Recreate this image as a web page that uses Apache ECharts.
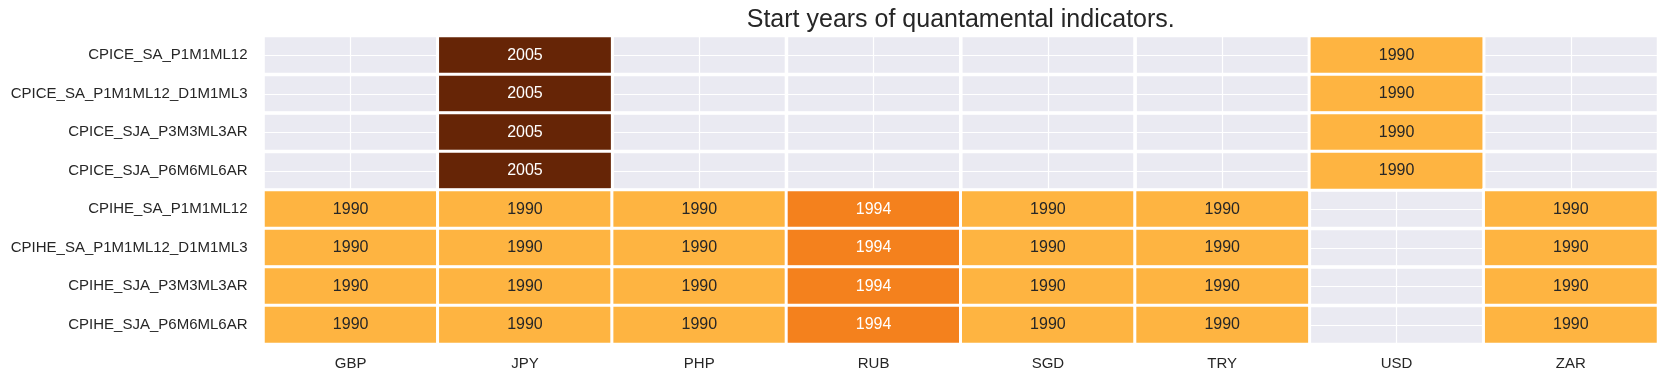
<!DOCTYPE html>
<html>
<head>
<meta charset="utf-8">
<script src="https://cdn.jsdelivr.net/npm/echarts@6/dist/echarts.min.js"></script>
<style>html,body{margin:0;padding:0;background:#fff;}#c{width:1668px;height:381px;}</style>
</head>
<body>
<div id="c"></div>
<script>
// categories
const currencies = ['GBP', 'JPY', 'PHP', 'RUB', 'SGD', 'TRY', 'USD', 'ZAR'];
const indicators = [
  'CPICE_SA_P1M1ML12',
  'CPICE_SA_P1M1ML12_D1M1ML3',
  'CPICE_SJA_P3M3ML3AR',
  'CPICE_SJA_P6M6ML6AR',
  'CPIHE_SA_P1M1ML12',
  'CPIHE_SA_P1M1ML12_D1M1ML3',
  'CPIHE_SJA_P3M3ML3AR',
  'CPIHE_SJA_P6M6ML6AR'
];
// start years per currency (in indicator order); null = no data
const GBP = [null, null, null, null, 1990, 1990, 1990, 1990];
const JPY = [2005, 2005, 2005, 2005, 1990, 1990, 1990, 1990];
const PHP = [null, null, null, null, 1990, 1990, 1990, 1990];
const RUB = [null, null, null, null, 1994, 1994, 1994, 1994];
const SGD = [null, null, null, null, 1990, 1990, 1990, 1990];
const TRY = [null, null, null, null, 1990, 1990, 1990, 1990];
const USD = [1990, 1990, 1990, 1990, null, null, null, null];
const ZAR = [null, null, null, null, 1990, 1990, 1990, 1990];
const startYears = [GBP, JPY, PHP, RUB, SGD, TRY, USD, ZAR];

const yearColors = { 1990: '#feb441', 1994: '#f4811d', 2005: '#662506' };
const yearText = { 1990: '#262626', 1994: '#ffffff', 2005: '#ffffff' };

const filled = [], empty = [];
startYears.forEach((col, ci) => {
  col.forEach((v, ri) => {
    if (v === null) {
      empty.push({ value: [ci, ri, 0] });
    } else {
      filled.push({
        value: [ci, ri, v],
        itemStyle: { color: yearColors[v] },
        label: { color: yearText[v] }
      });
    }
  });
});

const GRID_LEFT = 263.5, GRID_RIGHT = 10;
const chart = echarts.init(document.getElementById('c'), null, { renderer: 'canvas' });
const FONT = '"Liberation Sans", Arial, Helvetica, sans-serif';
chart.setOption({
  animation: false,
  backgroundColor: '#ffffff',
  textStyle: { fontFamily: FONT },
  title: {
    text: 'Start years of quantamental indicators.',
    left: GRID_LEFT + (1668 - GRID_LEFT - GRID_RIGHT) / 2,
    textAlign: 'center',
    top: 8,
    padding: 0,
    textStyle: { fontSize: 25, fontWeight: 'normal', color: '#262626', fontFamily: FONT }
  },
  grid: {
    left: GRID_LEFT, top: 36, right: GRID_RIGHT, bottom: 37,
    show: true, backgroundColor: '#eaeaf2', borderWidth: 0
  },
  xAxis: [
    {
      type: 'category', data: currencies, position: 'bottom',
      axisLine: { show: false }, axisTick: { show: false }, splitLine: { show: false },
      axisLabel: { fontSize: 15, color: '#262626', margin: 12, fontFamily: FONT }
    },
    {
      type: 'value', min: 0, max: 8, interval: 0.5, position: 'top',
      axisLine: { show: false }, axisTick: { show: false }, axisLabel: { show: false },
      splitLine: { show: true, lineStyle: { color: '#ffffff', width: 1.2 } }
    }
  ],
  yAxis: [
    {
      type: 'category', data: indicators, inverse: true,
      axisLine: { show: false }, axisTick: { show: false }, splitLine: { show: false },
      axisLabel: { fontSize: 15, color: '#262626', margin: 16, fontFamily: FONT }
    },
    {
      type: 'value', min: 0, max: 8, interval: 0.5, position: 'right',
      axisLine: { show: false }, axisTick: { show: false }, axisLabel: { show: false },
      splitLine: { show: true, lineStyle: { color: '#ffffff', width: 1.2 } }
    }
  ],
  series: [
    {
      type: 'heatmap', xAxisIndex: 0, yAxisIndex: 0, data: empty,
      itemStyle: { color: 'rgba(0,0,0,0)', borderColor: '#ffffff', borderWidth: 3 },
      label: { show: false }, emphasis: { disabled: true }, silent: true
    },
    {
      type: 'heatmap', xAxisIndex: 0, yAxisIndex: 0, data: filled,
      itemStyle: { borderColor: '#ffffff', borderWidth: 3 },
      label: { show: true, fontSize: 16, fontFamily: FONT, formatter: p => String(p.value[2]) },
      emphasis: { disabled: true }, silent: true
    }
  ]
});
</script>
</body>
</html>
